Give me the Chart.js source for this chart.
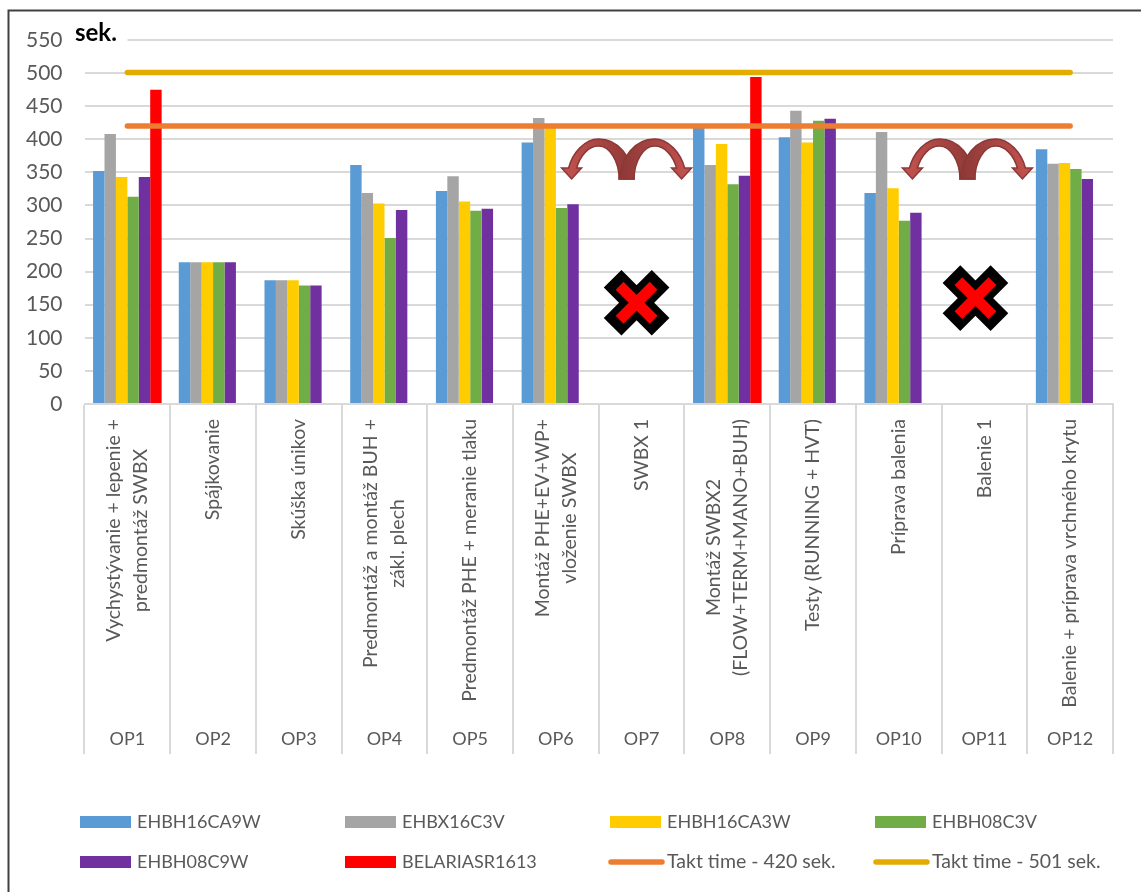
<!DOCTYPE html>
<html lang="sk">
<head>
<meta charset="utf-8">
<title>Takt time</title>
<script src="https://cdn.jsdelivr.net/npm/chart.js@4/dist/chart.umd.min.js"></script>
<style>
  html, body { margin: 0; padding: 0; background: #fff; }
  canvas { display: block; }
</style>
</head>
<body>
<canvas id="taktChart" width="1141" height="892"></canvas>
<script>
// Data
const operations = ['OP1', 'OP2', 'OP3', 'OP4', 'OP5', 'OP6', 'OP7', 'OP8', 'OP9', 'OP10', 'OP11', 'OP12'];
const processLabels = [
  ['Vychystývanie + lepenie +', 'predmontáž SWBX'],
  ['Spájkovanie'],
  ['Skúška únikov'],
  ['Predmontáž a montáž BUH +', 'zákl. plech'],
  ['Predmontáž PHE + meranie tlaku'],
  ['Montáž PHE+EV+WP+', 'vloženie SWBX'],
  ['SWBX 1'],
  ['Montáž SWBX2', '(FLOW+TERM+MANO+BUH)'],
  ['Testy (RUNNING + HVT)'],
  ['Príprava balenia'],
  ['Balenie 1'],
  ['Balenie + príprava vrchného krytu']
];
const ehbh16ca9w = [352, 214, 187, 361, 322, 395, null, 418, 403, 319, null, 385];
const ehbx16c3v = [408, 214, 187, 319, 344, 432, null, 361, 443, 411, null, 363];
const ehbh16ca3w = [343, 214, 187, 303, 306, 420, null, 393, 395, 326, null, 364];
const ehbh08c3v = [313, 214, 179, 251, 292, 296, null, 332, 428, 277, null, 355];
const ehbh08c9w = [343, 214, 179, 293, 295, 302, null, 345, 431, 289, null, 340];
const belaria = [475, null, null, null, null, null, null, 494, null, null, null, null];
const takt420 = [420, 420, 420, 420, 420, 420, 420, 420, 420, 420, 420, 420];
const takt501 = [501, 501, 501, 501, 501, 501, 501, 501, 501, 501, 501, 501];

const fontName = 'Lato, "Open Sans", sans-serif';
const textColor = '#595959';
const gridColor = '#D9D9D9';

function barSet(label, values, color) {
  return { type: 'bar', label: label, data: values, backgroundColor: color, order: 2,
    categoryPercentage: 0.8, barPercentage: 1 };
}
function lineSet(label, values, color, order) {
  return { type: 'line', label: label, data: values, borderColor: color, backgroundColor: color,
    borderWidth: 5.5, borderCapStyle: 'round', pointRadius: 0, fill: false, tension: 0, order: order };
}

// zakrivena dvojita sipka, x a y su stred a spodok ramien
function drawArrow(ctx, x, y) {
  [1, -1].forEach(side => {
    ctx.save();
    ctx.translate(x, y);
    ctx.scale(side, 1);
    const grad = ctx.createLinearGradient(-58, 0, 8, 0);
    grad.addColorStop(0, '#C0504D');
    grad.addColorStop(0.45, '#A84643');
    grad.addColorStop(1, '#8C3836');
    ctx.fillStyle = grad;
    ctx.strokeStyle = '#8C3836';
    ctx.lineWidth = 1.5;
    ctx.lineJoin = 'miter';
    ctx.beginPath();
    ctx.moveTo(7.5, 0);
    ctx.bezierCurveTo(5, -22, -8, -40, -28, -40);
    ctx.bezierCurveTo(-42, -40, -54, -26, -58, -11);
    ctx.lineTo(-65, -11);
    ctx.lineTo(-55, 0);
    ctx.lineTo(-45, -11);
    ctx.lineTo(-50, -11);
    ctx.bezierCurveTo(-46, -24, -38, -33, -28, -33);
    ctx.bezierCurveTo(-17, -33, -7.5, -18, -7.5, 0);
    ctx.closePath();
    ctx.fill();
    ctx.stroke();
    ctx.restore();
  });
}

// cierny kriz s cervenym vnutrom
function drawCross(ctx, x, y) {
  [['#000000', 25, 24], ['#FF0000', 11, 17]].forEach(([color, w, r]) => {
    ctx.strokeStyle = color;
    ctx.lineWidth = w;
    ctx.lineCap = 'butt';
    ctx.beginPath();
    ctx.moveTo(x - r, y - r);
    ctx.lineTo(x + r, y + r);
    ctx.moveTo(x + r, y - r);
    ctx.lineTo(x - r, y + r);
    ctx.stroke();
  });
}

// popisy procesov, otocene o 90 stupnov, zarovnane k osi
const processLabelPlugin = {
  id: 'processLabels',
  afterDatasetsDraw(chart) {
    const ctx = chart.ctx;
    const xs = chart.scales.x;
    ctx.save();
    ctx.font = '19.5px ' + fontName;
    ctx.fillStyle = textColor;
    ctx.textAlign = 'center';
    ctx.textBaseline = 'middle';
    processLabels.forEach((lines, i) => {
      const widest = Math.max(...lines.map(l => ctx.measureText(l).width));
      const cx = xs.getPixelForTick(i);
      const cy = xs.top + 15 + widest / 2;
      lines.forEach((line, n) => {
        ctx.save();
        ctx.translate(cx + (n - (lines.length - 1) / 2) * 27, cy);
        ctx.rotate(-Math.PI / 2);
        ctx.fillText(line, 0, 0);
        ctx.restore();
      });
    });
    ctx.restore();
  }
};

// ramcek, nadpis "sek.", tvary a legenda v stlpcoch
const decorPlugin = {
  id: 'decor',
  afterDraw(chart) {
    const ctx = chart.ctx;
    const xs = chart.scales.x;
    const ys = chart.scales.y;
    ctx.save();

    ctx.strokeStyle = '#404040';
    ctx.lineWidth = 2;
    ctx.beginPath();
    ctx.moveTo(8.5, 892);
    ctx.lineTo(8.5, 10.5);
    ctx.lineTo(1141, 10.5);
    ctx.stroke();

    ctx.fillStyle = '#ffffff';
    ctx.fillRect(xs.left - 4, ys.top - 12, 47, 24);
    ctx.fillStyle = '#000000';
    ctx.font = 'bold 24px ' + fontName;
    ctx.textAlign = 'left';
    ctx.textBaseline = 'middle';
    ctx.fillText('sek.', 75, 33);

    drawArrow(ctx, xs.getPixelForTick(6) - 15, ys.getPixelForValue(340));
    drawArrow(ctx, xs.getPixelForTick(10) - 17, ys.getPixelForValue(340));
    drawCross(ctx, xs.getPixelForTick(6) - 5, ys.getPixelForValue(153));
    drawCross(ctx, xs.getPixelForTick(10) - 9, ys.getPixelForValue(160));

    const colX = [80, 345, 610, 875];
    const rowY = [822, 862];
    ctx.textBaseline = 'middle';
    chart.data.datasets.forEach((ds, i) => {
      const x = colX[i % 4];
      const y = rowY[Math.floor(i / 4)];
      if (ds.type === 'bar') {
        ctx.fillStyle = ds.backgroundColor;
        ctx.fillRect(x, y - 6, 51, 12);
        ctx.font = '18px ' + fontName;
      } else {
        ctx.strokeStyle = ds.borderColor;
        ctx.lineWidth = 5.5;
        ctx.lineCap = 'round';
        ctx.beginPath();
        ctx.moveTo(x + 1, y);
        ctx.lineTo(x + 52, y);
        ctx.stroke();
        ctx.font = '19.5px ' + fontName;
      }
      ctx.fillStyle = textColor;
      ctx.fillText(ds.label, x + 57, y);
    });
    ctx.restore();
  }
};

window.onload = () => {
  const ctx = document.getElementById('taktChart').getContext('2d');
  new Chart(ctx, {
    data: {
      labels: operations,
      datasets: [
        barSet('EHBH16CA9W', ehbh16ca9w, '#5B9BD5'),
        barSet('EHBX16C3V', ehbx16c3v, '#A5A5A5'),
        barSet('EHBH16CA3W', ehbh16ca3w, '#FFCC00'),
        barSet('EHBH08C3V', ehbh08c3v, '#70AD47'),
        barSet('EHBH08C9W', ehbh08c9w, '#7030A0'),
        barSet('BELARIASR1613', belaria, '#FF0000'),
        lineSet('Takt time - 420 sek.', takt420, '#ED7D31', 0),
        lineSet('Takt time - 501 sek.', takt501, '#E2AC00', 1)
      ]
    },
    options: {
      responsive: false,
      animation: false,
      layout: { autoPadding: false, padding: { top: 40, right: 28, bottom: 0, left: 0 } },
      plugins: { legend: { display: false }, tooltip: { enabled: false }, title: { display: false } },
      scales: {
        x: {
          afterFit(scale) { scale.height = 488; },
          border: { color: gridColor, width: 2 },
          grid: { drawOnChartArea: false, color: gridColor, lineWidth: 2, tickLength: 350, offset: true },
          ticks: {
            autoSkip: false, maxRotation: 0, minRotation: 0, padding: -26,
            color: textColor, font: { family: fontName, size: 18 }
          }
        },
        y: {
          min: 0,
          max: 550,
          afterFit(scale) { scale.width = 84.5; },
          border: { display: false },
          grid: { color: gridColor, lineWidth: 2, drawTicks: false },
          ticks: {
            stepSize: 50, padding: 22,
            color: textColor, font: { family: fontName, size: 21 }
          }
        }
      }
    },
    plugins: [processLabelPlugin, decorPlugin]
  });
};
</script>
</body>
</html>
